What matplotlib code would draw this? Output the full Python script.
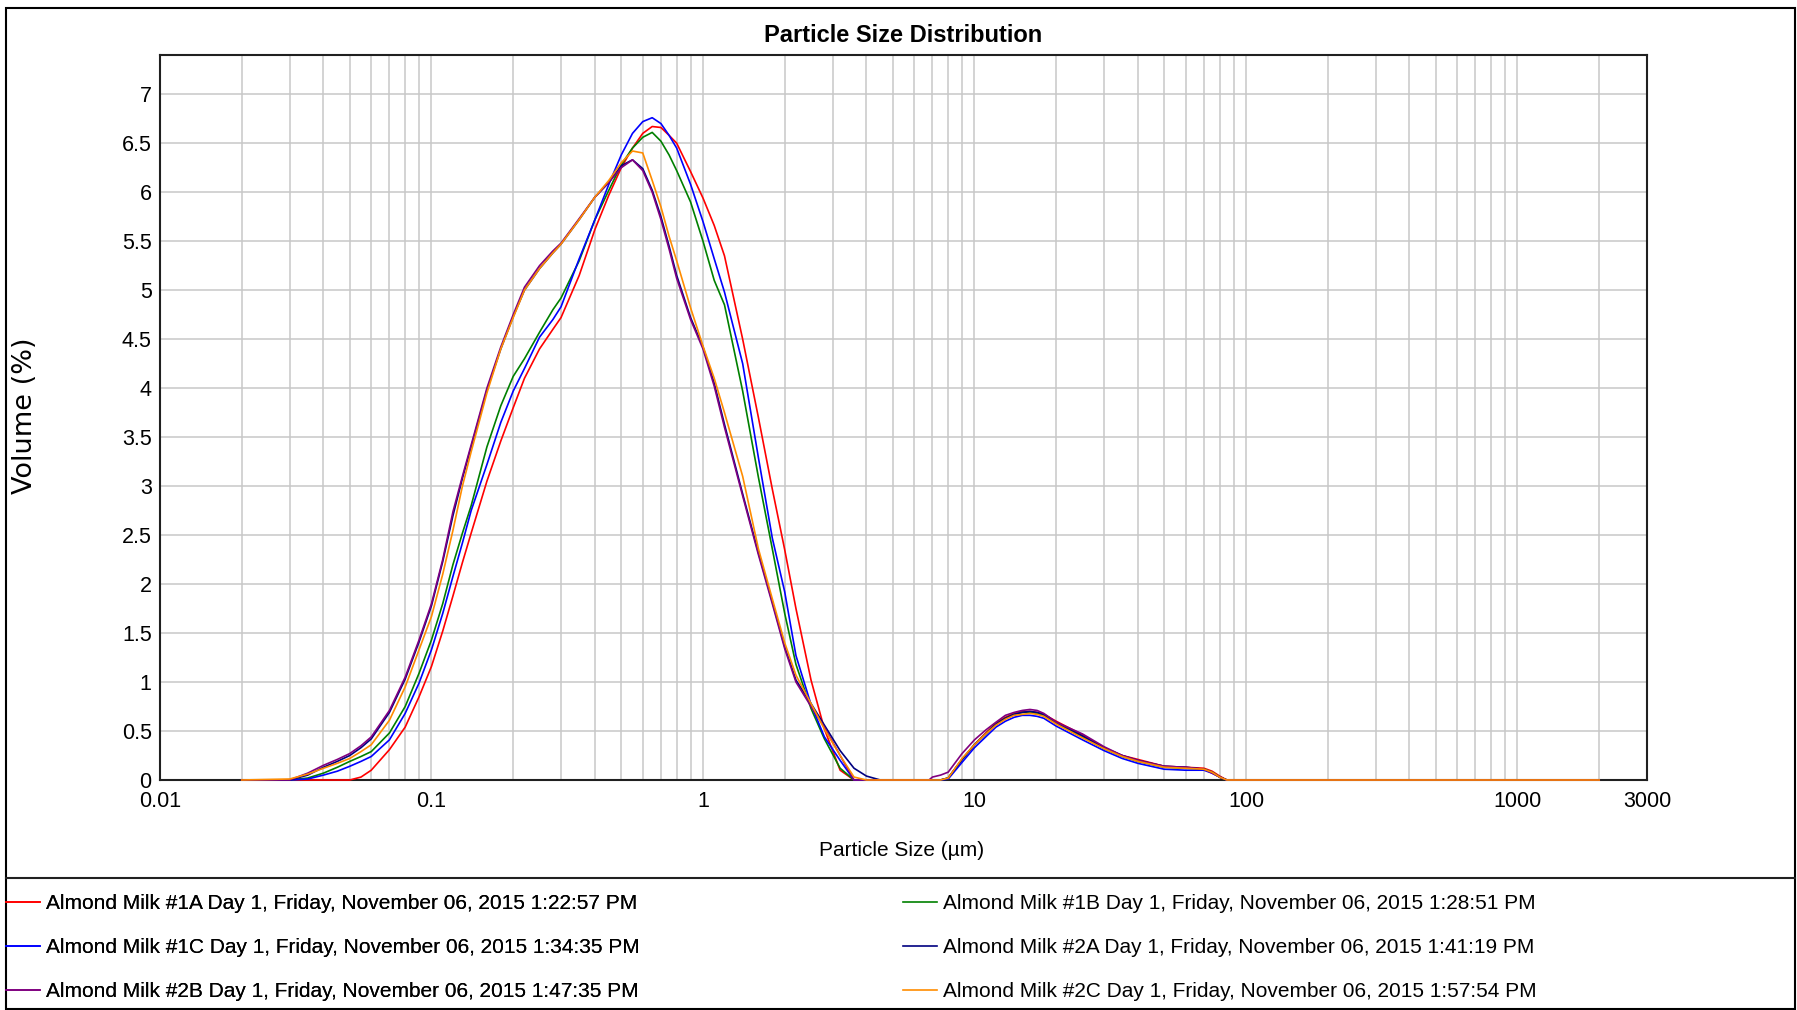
import numpy as np
from matplotlib import pyplot as plt
from matplotlib import ticker, patches, lines, font_manager

sizes = [0.02, 0.03, 0.035, 0.04, 0.045, 0.05, 0.055, 0.06, 0.07, 0.08,
         0.09, 0.1, 0.11, 0.12, 0.13, 0.14, 0.16, 0.18, 0.2, 0.22,
         0.25, 0.28, 0.3, 0.35, 0.4, 0.45, 0.5, 0.55, 0.6, 0.65,
         0.7, 0.75, 0.8, 0.9, 1.0, 1.1, 1.2, 1.4, 1.6, 1.8,
         2.0, 2.2, 2.5, 2.8, 3.2, 3.6, 4.0, 4.5, 6.8, 7.0,
         7.5, 8.0, 9.0, 10, 11, 12, 13, 14, 15, 16,
         17, 18, 20, 25, 30, 35, 40, 50, 60, 70,
         75, 80, 85, 100, 2000]

milk_1a = [0, 0, 0, 0, 0, 0, 0.03, 0.10, 0.31, 0.54,
           0.85, 1.16, 1.52, 1.88, 2.22, 2.52, 3.05, 3.46, 3.8, 4.1,
           4.4, 4.6, 4.72, 5.15, 5.62, 5.97, 6.25, 6.45, 6.6, 6.67,
           6.66, 6.58, 6.5, 6.21, 5.94, 5.66, 5.35, 4.5, 3.7, 2.97,
           2.35, 1.75, 1.02, 0.52, 0.1, 0, 0, 0, 0, 0,
           0, 0.02, 0.21, 0.36, 0.48, 0.58, 0.64, 0.68, 0.70, 0.70,
           0.69, 0.67, 0.60, 0.46, 0.33, 0.25, 0.21, 0.14, 0.13, 0.12,
           0.09, 0.04, 0, 0, 0]

milk_1b = [0, 0, 0.02, 0.07, 0.13, 0.19, 0.24, 0.29, 0.48, 0.75,
           1.09, 1.43, 1.8, 2.2, 2.52, 2.8, 3.4, 3.82, 4.12, 4.3,
           4.57, 4.8, 4.92, 5.3, 5.72, 6.02, 6.28, 6.45, 6.56, 6.61,
           6.52, 6.38, 6.22, 5.9, 5.5, 5.1, 4.85, 3.97, 3.09, 2.36,
           1.7, 1.18, 0.73, 0.42, 0.12, 0, 0, 0, 0, 0,
           0, 0.02, 0.21, 0.36, 0.47, 0.57, 0.63, 0.67, 0.69, 0.69,
           0.68, 0.66, 0.58, 0.44, 0.32, 0.24, 0.19, 0.13, 0.12, 0.11,
           0.08, 0.03, 0, 0, 0]

milk_1c = [0, 0, 0.01, 0.05, 0.09, 0.14, 0.19, 0.24, 0.41, 0.68,
           0.99, 1.33, 1.7, 2.08, 2.42, 2.75, 3.22, 3.65, 3.97, 4.2,
           4.52, 4.7, 4.83, 5.32, 5.72, 6.08, 6.38, 6.6, 6.72, 6.76,
           6.7, 6.58, 6.45, 6.08, 5.7, 5.32, 4.98, 4.25, 3.29, 2.47,
           1.92, 1.27, 0.77, 0.44, 0.2, 0, 0, 0, 0, 0,
           0, 0.01, 0.18, 0.33, 0.44, 0.54, 0.60, 0.64, 0.66, 0.66,
           0.65, 0.63, 0.55, 0.41, 0.30, 0.22, 0.17, 0.11, 0.10, 0.10,
           0.07, 0.03, 0, 0, 0]

milk_2a = [0, 0, 0.05, 0.13, 0.19, 0.25, 0.33, 0.42, 0.69, 1.03,
           1.41, 1.78, 2.23, 2.7, 3.08, 3.4, 3.98, 4.4, 4.73, 5.0,
           5.22, 5.38, 5.47, 5.72, 5.95, 6.1, 6.27, 6.33, 6.24, 6.02,
           5.75, 5.45, 5.15, 4.72, 4.42, 4.05, 3.63, 2.92, 2.32, 1.82,
           1.36, 1.02, 0.78, 0.56, 0.3, 0.12, 0.04, 0, 0, 0,
           0, 0.02, 0.21, 0.36, 0.47, 0.57, 0.63, 0.67, 0.69, 0.70,
           0.69, 0.67, 0.59, 0.45, 0.33, 0.25, 0.20, 0.14, 0.13, 0.11,
           0.08, 0.03, 0, 0, 0]

milk_2b = [0, 0, 0.07, 0.15, 0.21, 0.27, 0.35, 0.44, 0.71, 1.05,
           1.43, 1.80, 2.25, 2.74, 3.1, 3.42, 4.0, 4.42, 4.75, 5.03,
           5.25, 5.4, 5.48, 5.73, 5.95, 6.1, 6.25, 6.33, 6.22, 6.0,
           5.72, 5.42, 5.12, 4.7, 4.4, 4.02, 3.6, 2.9, 2.3, 1.8,
           1.34, 1.0, 0.75, 0.54, 0.25, 0, 0, 0, 0, 0.03,
           0.05, 0.08, 0.27, 0.41, 0.51, 0.59, 0.66, 0.69, 0.71, 0.72,
           0.71, 0.68, 0.59, 0.47, 0.34, 0.25, 0.20, 0.14, 0.13, 0.11,
           0.07, 0.03, 0, 0, 0]

milk_2c = [0, 0.01, 0.06, 0.12, 0.17, 0.22, 0.29, 0.36, 0.61, 0.95,
           1.33, 1.67, 2.1, 2.55, 3.0, 3.35, 3.95, 4.4, 4.72, 5.0,
           5.22, 5.38, 5.47, 5.72, 5.95, 6.12, 6.3, 6.42, 6.4, 6.12,
           5.85, 5.55, 5.3, 4.82, 4.43, 4.1, 3.75, 3.1, 2.36, 1.85,
           1.4, 1.07, 0.78, 0.52, 0.25, 0.03, 0, 0, 0, 0,
           0, 0.02, 0.22, 0.36, 0.47, 0.56, 0.62, 0.66, 0.67, 0.68,
           0.67, 0.65, 0.57, 0.43, 0.32, 0.24, 0.19, 0.13, 0.12, 0.11,
           0.08, 0.03, 0, 0, 0]

labels = ['Almond Milk #1A Day 1, Friday, November 06, 2015 1:22:57 PM',
          'Almond Milk #1B Day 1, Friday, November 06, 2015 1:28:51 PM',
          'Almond Milk #1C Day 1, Friday, November 06, 2015 1:34:35 PM',
          'Almond Milk #2A Day 1, Friday, November 06, 2015 1:41:19 PM',
          'Almond Milk #2B Day 1, Friday, November 06, 2015 1:47:35 PM',
          'Almond Milk #2C Day 1, Friday, November 06, 2015 1:57:54 PM']
colors = ['#ff0000', '#008000', '#0000ff', '#000080', '#800080', '#ff8c00']
series = [milk_1a, milk_1b, milk_1c, milk_2a, milk_2b, milk_2c]

xticks = [0.01, 0.1, 1, 10, 100, 1000, 3000]
xticklabels = ['0.01', '0.1', '1', '10', '100', '1000', '3000']

names = {f.name for f in font_manager.fontManager.ttflist}
narrow = 'Liberation Sans Narrow' if 'Liberation Sans Narrow' in names else 'Liberation Sans'
plt.rcParams['font.family'] = [narrow, 'DejaVu Sans']

W, H = 1797, 1010
fig = plt.figure(figsize=(W / 100, H / 100), dpi=100)
ax = fig.add_axes([160 / W, 1 - 780 / H, (1647 - 160) / W, (780 - 55) / H])

handles = []
for vals, col, lab in zip(series, colors, labels):
    h, = ax.plot(sizes, vals, color=col, lw=1.2, label=lab, clip_on=False, zorder=3)
    handles.append(h)

ax.set_xscale('log')
ax.set_xlim(0.01, 3000)
ax.set_ylim(0, 7.4)
ax.set_xticks(xticks)
ax.set_xticklabels(xticklabels)
ax.xaxis.set_minor_locator(ticker.LogLocator(base=10, subs=range(2, 10), numticks=20))
ax.xaxis.set_minor_formatter(ticker.NullFormatter())
ax.yaxis.set_major_locator(ticker.MultipleLocator(0.5))
ax.yaxis.set_major_formatter(ticker.FormatStrFormatter('%g'))
ax.tick_params(which='both', length=0, labelsize=15.5)
ax.tick_params(axis='x', pad=8)
ax.tick_params(axis='y', pad=6)
ax.grid(True, which='both', axis='both', color='#c8c8c8', lw=1.1)
ax.set_axisbelow(True)
for s in ax.spines.values():
    s.set_color('#202020')
    s.set_linewidth(1.5)

ax.set_title('Particle Size Distribution', fontsize=17, fontweight='bold', y=1 + 19 / 725, pad=0, va='center')
fig.text(902 / W, 1 - 851 / H, 'Particle Size (µm)', ha='center', va='center', fontsize=15)
fig.text(25 / W, 1 - 416 / H, 'Volume (%)', ha='center', va='center', rotation=90,
         fontsize=19.5, family='DejaVu Sans')

# outer frame and legend separator
fig.add_artist(patches.Rectangle((6 / W, 1 - 1009 / H), 1789 / W, 1001 / H, transform=fig.transFigure,
                                 fill=False, edgecolor='black', lw=1.5))
fig.add_artist(lines.Line2D([6 / W, 1795 / W], [1 - 878 / H] * 2, transform=fig.transFigure,
                            color='#202020', lw=1.5))

leg_kw = dict(loc='upper left', frameon=False, fontsize=15, borderpad=0, borderaxespad=0,
              handlelength=1.63, handletextpad=0.29, labelspacing=1.2)
leg1 = fig.legend(handles=[handles[0], handles[2], handles[4]], bbox_to_anchor=(6 / W, 1 - 894 / H), **leg_kw)
fig.add_artist(leg1)
fig.legend(handles=[handles[1], handles[3], handles[5]], bbox_to_anchor=(903 / W, 1 - 894 / H), **leg_kw)

fig.savefig('out.png', dpi=100)
